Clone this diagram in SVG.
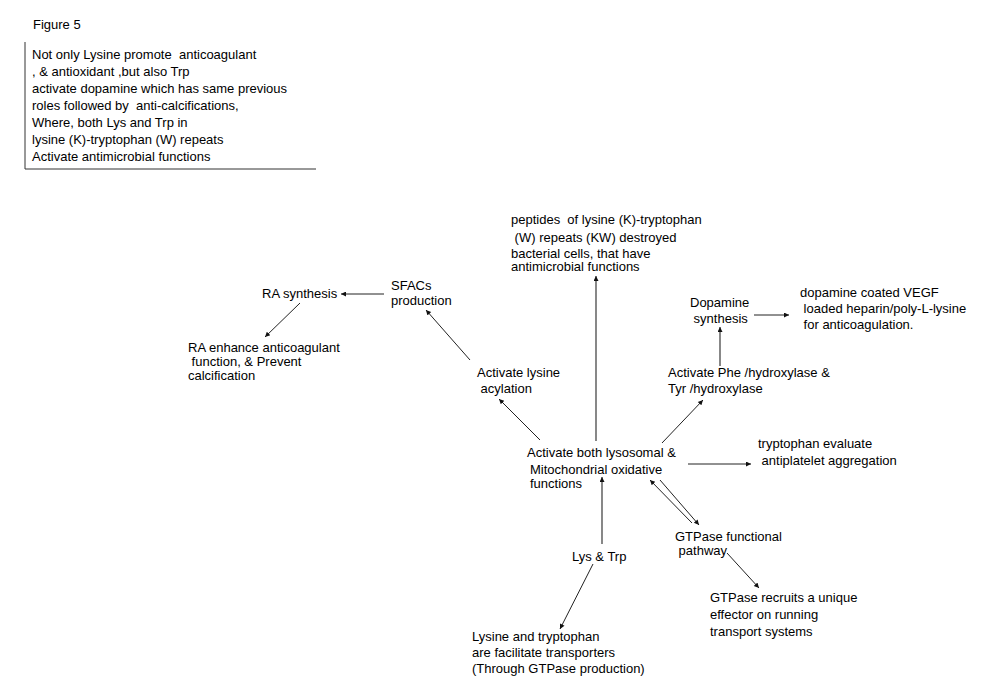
<svg xmlns="http://www.w3.org/2000/svg" width="990" height="690" viewBox="0 0 990 690">
<defs>
<marker id="ah" viewBox="0 0 10 10" refX="10" refY="5" markerWidth="8" markerHeight="5" markerUnits="userSpaceOnUse" orient="auto">
<path d="M0,0 L10,5 L0,10 z" fill="#111"/>
</marker>
</defs>
<style>
text{font-family:"Liberation Sans",Arial,sans-serif;font-size:13px;fill:#000;white-space:pre}
.c{stroke:#222;stroke-width:1;fill:none;marker-end:url(#ah)}
.g{stroke:#555;stroke-width:1.4;fill:none;marker-end:url(#ah)}
.b{stroke:#333;stroke-width:1;fill:none}
</style>
<rect width="990" height="690" fill="#fff"/>
<g id="title"><text x="33" y="29">Figure 5</text></g>
<g id="note">
<path class="b" d="M25,42 V169 H316"/>
<text x="32" y="59" xml:space="preserve">Not only Lysine promote  anticoagulant</text>
<text x="32" y="76" xml:space="preserve">, &amp; antioxidant ,but also Trp</text>
<text x="32" y="93" xml:space="preserve">activate dopamine which has same previous</text>
<text x="32" y="110" xml:space="preserve">roles followed by  anti-calcifications,</text>
<text x="32" y="127" xml:space="preserve">Where, both Lys and Trp in</text>
<text x="32" y="144" xml:space="preserve">lysine (K)-tryptophan (W) repeats</text>
<text x="32" y="161" xml:space="preserve">Activate antimicrobial functions</text>
</g>
<g id="ra-synthesis"><text x="262" y="298">RA synthesis</text></g>
<g id="sfacs"><text x="391" y="290">SFACs</text><text x="391" y="305">production</text></g>
<g id="ra-enhance"><text x="188" y="352" xml:space="preserve">RA enhance anticoagulant</text><text x="188" y="366" xml:space="preserve"> function, &amp; Prevent</text><text x="188" y="380">calcification</text></g>
<g id="acylation"><text x="477" y="377" xml:space="preserve">Activate lysine</text><text x="477" y="393" xml:space="preserve"> acylation</text></g>
<g id="peptides"><text x="511" y="224" xml:space="preserve">peptides  of lysine (K)-tryptophan</text><text x="511" y="242" xml:space="preserve"> (W) repeats (KW) destroyed</text><text x="511" y="258" xml:space="preserve">bacterial cells, that have</text><text x="511" y="271" xml:space="preserve">antimicrobial functions</text></g>
<g id="center"><text x="527" y="457" xml:space="preserve">Activate both lysosomal &amp;</text><text x="530" y="474" xml:space="preserve">Mitochondrial oxidative</text><text x="530" y="488">functions</text></g>
<g id="hydroxylase"><text x="668" y="377" xml:space="preserve">Activate Phe /hydroxylase &amp;</text><text x="668" y="393" xml:space="preserve">Tyr /hydroxylase</text></g>
<g id="dopamine"><text x="690" y="307">Dopamine</text><text x="690" y="323" xml:space="preserve"> synthesis</text></g>
<g id="vegf"><text x="800" y="297" xml:space="preserve">dopamine coated VEGF</text><text x="800" y="313" xml:space="preserve"> loaded heparin/poly-L-lysine</text><text x="800" y="329" xml:space="preserve"> for anticoagulation.</text></g>
<g id="antiplatelet"><text x="758" y="448" xml:space="preserve">tryptophan evaluate</text><text x="758" y="465" xml:space="preserve"> antiplatelet aggregation</text></g>
<g id="gtpase-pathway"><text x="675" y="541" xml:space="preserve">GTPase functional</text><text x="675" y="555" xml:space="preserve"> pathway</text></g>
<g id="gtpase-effector"><text x="710" y="602" xml:space="preserve">GTPase recruits a unique</text><text x="710" y="619" xml:space="preserve">effector on running</text><text x="710" y="636" xml:space="preserve">transport systems</text></g>
<g id="lys-trp"><text x="572" y="561" xml:space="preserve">Lys &amp; Trp</text></g>
<g id="transporters"><text x="472" y="641" xml:space="preserve">Lysine and tryptophan</text><text x="472" y="657" xml:space="preserve">are facilitate transporters</text><text x="472" y="673" xml:space="preserve">(Through GTPase production)</text></g>
<g id="connectors">
<line class="c" x1="384" y1="294" x2="341" y2="294"/>
<line class="c" x1="300" y1="303" x2="265" y2="337"/>
<line class="c" x1="470" y1="360" x2="426" y2="310"/>
<line class="c" x1="540" y1="440" x2="499" y2="399"/>
<line class="g" x1="596" y1="441" x2="596" y2="276"/>
<line class="c" x1="662" y1="443" x2="703" y2="400"/>
<line class="g" x1="720" y1="366" x2="720" y2="327"/>
<line class="c" x1="754" y1="315" x2="789" y2="315"/>
<line class="c" x1="688" y1="464" x2="751" y2="464"/>
<line class="c" x1="692" y1="523" x2="650" y2="480"/>
<line class="c" x1="660" y1="480" x2="699" y2="525"/>
<line class="c" x1="727" y1="553" x2="759" y2="588"/>
<line class="g" x1="602" y1="544" x2="602" y2="477"/>
<line class="c" x1="593" y1="564" x2="560" y2="629"/>
</g>
</svg>
